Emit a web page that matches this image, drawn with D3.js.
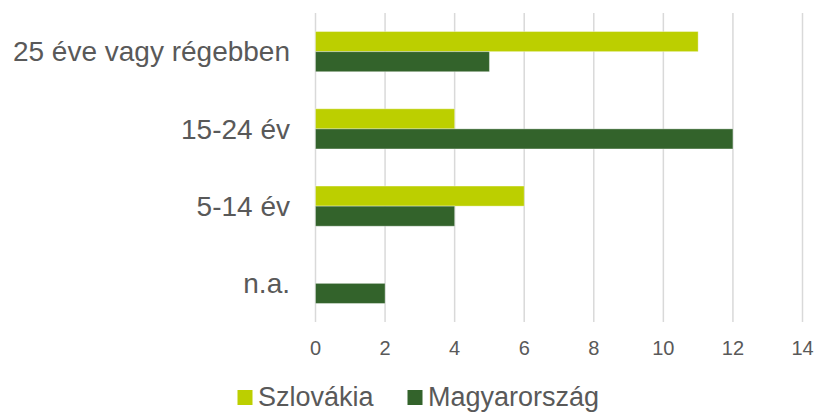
<!DOCTYPE html>
<meta charset="utf-8">
<style>
body { margin: 0; background: #fff; }
text { font-family: "Liberation Sans", Arial, sans-serif; fill: #595959; }
.grid line { stroke: #d9d9d9; stroke-width: 1.5px; }
</style>
<body>
<script src="https://d3js.org/d3.v7.min.js"></script>
<script>

var categories = ["25 éve vagy régebben", "15-24 év", "5-14 év", "n.a."];
var seriesNames = ["Szlovákia", "Magyarország"];
var szlovakia = [11, 4, 6, null];
var magyarorszag = [5, 12, 4, 2];
var xTicks = [0, 2, 4, 6, 8, 10, 12, 14];
var colours = ["#bccf00", "#33632b"];

var width = 817,
    height = 412;

var svg = d3.select("body").append("svg")
    .attr("width", width)
    .attr("height", height);

var x = d3.scaleLinear()
    .domain([0, 14])
    .range([315.5, 802.5]);

var y0 = d3.scaleBand()
    .domain(categories)
    .range([13, 322])
    .paddingInner(0.48)
    .paddingOuter(0.24);

var y1 = d3.scaleBand()
    .domain(seriesNames)
    .range([0, y0.bandwidth()]);

// gridlines
svg.append("g")
    .attr("class", "grid")
    .selectAll("line")
    .data(xTicks)
    .enter()
    .append("line")
    .attr("x1", function(d) { return x(d); })
    .attr("x2", function(d) { return x(d); })
    .attr("y1", 13)
    .attr("y2", 322);

// tick labels
svg.append("g")
    .selectAll("text")
    .data(xTicks)
    .enter()
    .append("text")
    .attr("x", function(d) { return x(d); })
    .attr("y", 355)
    .attr("text-anchor", "middle")
    .attr("font-size", 20)
    .text(function(d) { return d; });

// bars
var rows = categories.map(function(c, i) {
    return {cat: c, values: [
        {name: seriesNames[0], value: szlovakia[i]},
        {name: seriesNames[1], value: magyarorszag[i]}
    ]};
});

var group = svg.selectAll(".cat")
    .data(rows)
    .enter()
    .append("g")
    .attr("class", "cat")
    .attr("transform", function(d) { return "translate(0," + y0(d.cat) + ")"; });

group.selectAll("rect")
    .data(function(d) { return d.values.filter(function(v) { return v.value != null; }); })
    .enter()
    .append("rect")
    .attr("x", x(0))
    .attr("y", function(d) { return y1(d.name); })
    .attr("width", function(d) { return x(d.value) - x(0); })
    .attr("height", y1.bandwidth())
    .attr("fill", function(d) { return colours[seriesNames.indexOf(d.name)]; })
    .attr("stroke", "#fff")
    .attr("stroke-opacity", 0.35)
    .attr("stroke-width", 1);

// category labels
svg.append("g")
    .selectAll("text")
    .data(categories)
    .enter()
    .append("text")
    .attr("x", 290)
    .attr("y", function(d) { return y0(d) + y0.bandwidth() / 2; })
    .attr("dy", "0.35em")
    .attr("text-anchor", "end")
    .attr("font-size", 28)
    .text(function(d) { return d; });

// legend
var legendX = [237.5, 407.5];
var legend = svg.append("g")
    .selectAll("g")
    .data(seriesNames)
    .enter()
    .append("g")
    .attr("transform", function(d, i) { return "translate(" + legendX[i] + ",390)"; });

legend.append("rect")
    .attr("width", 15)
    .attr("height", 15)
    .attr("fill", function(d, i) { return colours[i]; });

legend.append("text")
    .attr("x", 20.5)
    .attr("y", 16)
    .attr("font-size", 27)
    .text(function(d) { return d; });

</script>
